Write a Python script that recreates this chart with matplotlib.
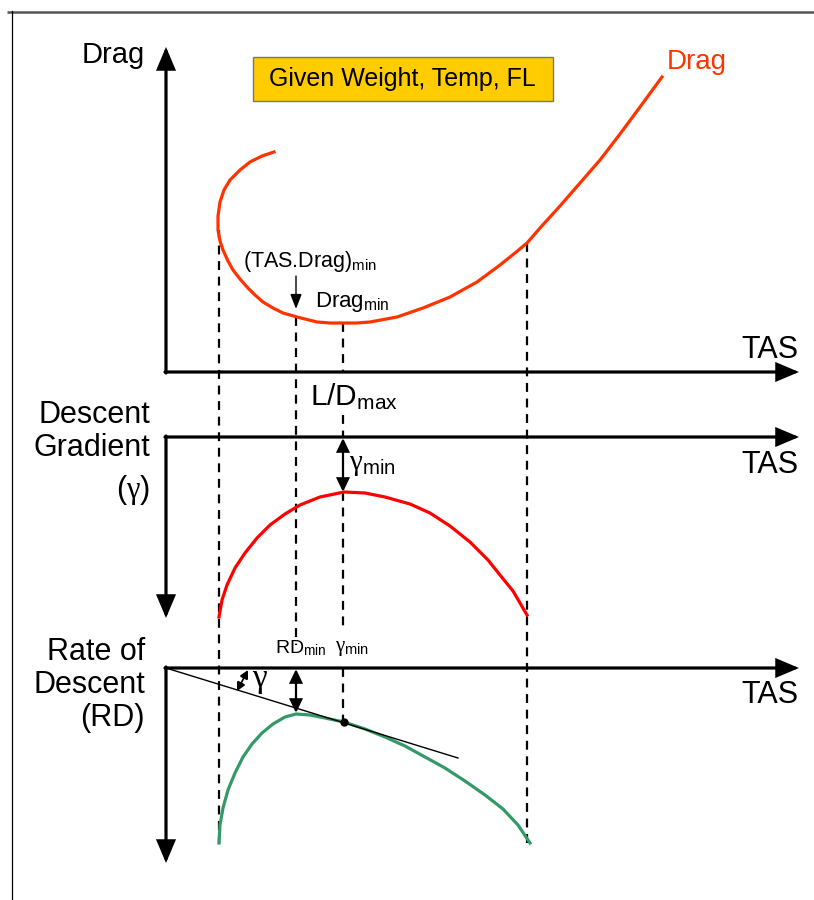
import matplotlib
matplotlib.use('Agg')
import matplotlib.pyplot as plt
from matplotlib.patches import FancyArrowPatch, Rectangle

plt.rcParams['font.family'] = ['Liberation Sans', 'DejaVu Sans']
plt.rcParams['mathtext.fontset'] = 'custom'
plt.rcParams['mathtext.rm'] = 'Liberation Sans'
plt.rcParams['mathtext.it'] = 'Liberation Serif'

# schematic curves (x = TAS, y = screen units, down positive)
drag_x = [274, 262, 250, 240, 230, 224, 220, 218, 218, 220, 223, 228, 233, 240, 247, 255,
          263, 273, 283, 297, 317, 330, 343, 357, 370, 397, 423, 450, 477, 500, 515, 527,
          540, 560, 580, 600, 620, 640, 662]
drag_y = [152, 156, 162, 170, 180, 190, 202, 216, 230, 241, 250, 261, 270, 279, 287, 295,
          302, 308, 313, 317, 322, 323, 323, 323, 322, 317, 308, 297, 282, 265, 253, 243,
          228, 206, 183, 160, 134, 107, 77]

grad_x = [219, 222, 227, 235, 245, 257, 270, 285, 300, 320, 344, 365, 385, 410, 430, 450,
          470, 488, 500, 513, 527]
grad_y = [617, 600, 585, 568, 553, 538, 525, 514, 505, 497, 492, 493, 497, 504, 513, 526,
          542, 560, 575, 591, 615]

rd_x = [219, 220, 223, 228, 235, 243, 252, 262, 273, 285, 296, 310, 325, 344, 365, 385,
        405, 425, 445, 465, 485, 503, 518, 530]
rd_y = [843, 825, 808, 790, 773, 757, 744, 733, 724, 717, 714, 715, 718, 722, 729, 737,
        746, 757, 768, 781, 795, 809, 825, 843]

tangent_x = [166, 458]
tangent_y = [668, 758]
tangent_point = (344, 722)

# speeds marked with dashed lines: low end, (TAS.Drag)min, L/Dmax, high end
v_low, v_tdmin, v_ldmax, v_high = 219, 296, 343, 527

serif = ['Liberation Serif', 'DejaVu Serif']

fig = plt.figure(figsize=(8.14, 9.0), dpi=100)
ax = fig.add_axes([0, 0, 1, 1])
ax.set_xlim(0, 814)
ax.set_ylim(900, 0)
ax.axis('off')

# frame
ax.plot([7, 814], [11.5, 11.5], color='#555555', lw=1.8, solid_capstyle='butt')
ax.plot([11.5, 11.5], [11, 900], color='black', lw=0.9)


def arrow(p0, p1, style='-|>,head_length=13,head_width=5.5', lw=2.3):
    a = FancyArrowPatch(p0, p1, arrowstyle=style, mutation_scale=1, lw=lw,
                        color='black', shrinkA=0, shrinkB=0, joinstyle='miter')
    ax.add_patch(a)


# axes of the three panels
arrow((166, 373), (166, 47))
arrow((165, 372), (799, 372))
arrow((165, 437), (799, 437))
arrow((166, 436), (166, 618))
arrow((165, 668), (799, 668))
arrow((166, 667), (166, 863))

# dashed guides
dash = dict(color='black', lw=1.6, ls=(0, (4, 3)))
ax.plot([v_low, v_low], [230, 843], **dash)
ax.plot([v_high, v_high], [243, 843], **dash)
ax.plot([v_tdmin, v_tdmin], [317, 645], **dash)
ax.plot([v_ldmax, v_ldmax], [323, 372], **dash)
ax.plot([v_ldmax, v_ldmax], [415, 437], **dash)
ax.plot([v_ldmax, v_ldmax], [492, 632], **dash)
ax.plot([v_ldmax, v_ldmax], [668, 722], **dash)

# curves
ax.plot(drag_x, drag_y, color='#FF3300', lw=2.3, solid_joinstyle='round')
ax.plot(grad_x, grad_y, color='#FF0000', lw=2.3, solid_joinstyle='round')
ax.plot(rd_x, rd_y, color='#339966', lw=2.3, solid_joinstyle='round')
ax.plot(tangent_x, tangent_y, color='black', lw=1.0)
ax.plot(*tangent_point, 'o', color='black', ms=5)

# small arrows
arrow((v_tdmin, 276), (v_tdmin, 309), style='-|>,head_length=9,head_width=3.5', lw=1.0)
arrow((v_ldmax, 438), (v_ldmax, 492), style='<|-|>,head_length=8,head_width=3.8', lw=1.6)
arrow((v_tdmin, 669), (v_tdmin, 713), style='<|-|>,head_length=8,head_width=3.8', lw=1.6)
arrow((248, 670), (237, 691), style='<|-|>,head_length=5,head_width=2.6', lw=1.2)

# box
ax.add_patch(Rectangle((253, 57), 300, 44, facecolor='#FFCC00', edgecolor='#777777', lw=1.0))
ax.text(402, 79, 'Given Weight, Temp, FL', fontsize=18, ha='center', va='center')

# labels
ax.text(113, 55, 'Drag', fontsize=21, ha='center', va='center')
ax.text(697, 62, 'Drag', fontsize=20, ha='center', va='center', color='#FF3300')
for ty in (350, 465, 695):
    ax.text(770, ty, 'TAS', fontsize=22, ha='center', va='center')

ax.text(243, 262, r'(TAS.Drag)$_\mathrm{min}$', fontsize=15.5, ha='left', va='center')
ax.text(315, 302, r'Drag$_\mathrm{min}$', fontsize=16, ha='left', va='center')
ax.text(310, 397, r'L/D$_\mathrm{max}$', fontsize=21.5, ha='left', va='center')

ax.text(150, 415, 'Descent', fontsize=22, ha='right', va='center')
ax.text(150, 448, 'Gradient', fontsize=22, ha='right', va='center')
ax.text(150, 490, r'($\mathit{\gamma}$)', fontsize=22, ha='right', va='center')

ax.text(145, 652, 'Rate of', fontsize=22, ha='right', va='center')
ax.text(145, 685, 'Descent', fontsize=22, ha='right', va='center')
ax.text(145, 718, '(RD)', fontsize=22, ha='right', va='center')

ax.text(349, 465, r'γ$_\mathrm{min}$', fontsize=21, ha='left', va='center', family=serif)
ax.text(275, 648, r'RD$_\mathrm{min}$', fontsize=14, ha='left', va='center')
ax.text(335, 648, r'γ$_\mathrm{min}$', fontsize=15, ha='left', va='center', family=serif)
ax.text(252, 679, 'γ', fontsize=24, ha='left', va='center', family=serif)

fig.savefig('out.png', dpi=100)
